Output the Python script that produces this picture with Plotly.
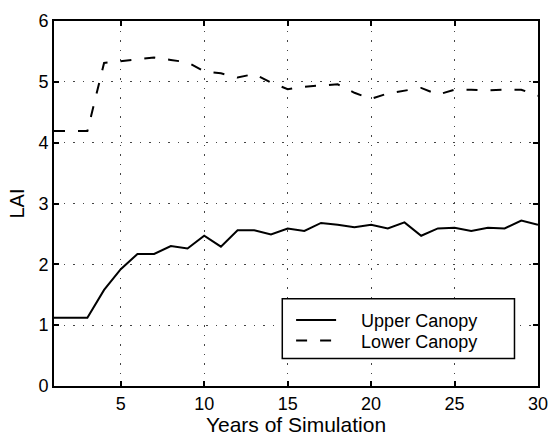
import plotly.graph_objects as go

years = list(range(1, 31))
upper_canopy = [1.12, 1.12, 1.12, 1.58, 1.92, 2.17, 2.17, 2.30, 2.26, 2.47,
                2.29, 2.56, 2.56, 2.49, 2.59, 2.55, 2.68, 2.65, 2.61, 2.65,
                2.59, 2.69, 2.47, 2.59, 2.60, 2.55, 2.60, 2.59, 2.72, 2.65]
lower_canopy = [4.19, 4.19, 4.19, 5.31, 5.34, 5.38, 5.40, 5.36, 5.32, 5.17,
                5.14, 5.07, 5.13, 4.99, 4.88, 4.92, 4.94, 4.96, 4.82, 4.72,
                4.81, 4.85, 4.90, 4.79, 4.87, 4.87, 4.86, 4.87, 4.87, 4.77]
series_names = ["Upper Canopy", "Lower Canopy"]
x_ticks = [5, 10, 15, 20, 25, 30]
y_ticks = [0, 1, 2, 3, 4, 5, 6]

FONT = "Liberation Sans, Arial, Helvetica, sans-serif"
NBSP = "\u00a0" * 4

fig = go.Figure()
fig.add_trace(go.Scatter(x=years, y=upper_canopy, mode="lines", name=NBSP + series_names[0],
                         line=dict(color="black", width=2), legend="legend"))
fig.add_trace(go.Scatter(x=years, y=lower_canopy, mode="lines", name=NBSP + series_names[1],
                         line=dict(color="black", width=2, dash="11px,13px"), legend="legend2"))

axis_common = dict(
    showline=True, linecolor="black", linewidth=1.8, mirror="ticks",
    ticks="inside", ticklen=5, tickwidth=1.5, tickcolor="black",
    showgrid=True, gridcolor="#444444", gridwidth=1.3, griddash="1.5px,8px",
    zeroline=False, tickfont=dict(family=FONT, size=18, color="black"),
)

fig.update_xaxes(range=[1, 30], tickvals=x_ticks,
                 title=dict(text="Years of Simulation", font=dict(family=FONT, size=21, color="black"), standoff=3),
                 **axis_common)
fig.update_yaxes(range=[0, 6], tickvals=y_ticks,
                 title=dict(text="LAI", font=dict(family=FONT, size=20, color="black"), standoff=8),
                 **axis_common)

# legend frame
fig.add_shape(type="rect", xref="paper", yref="paper",
              x0=(287 - 54) / 494, x1=(524 - 54) / 494,
              y0=(386 - 358) / 372, y1=(386 - 297) / 372,
              line=dict(color="black", width=1.5), fillcolor="white", layer="above")

leg_common = dict(bgcolor="rgba(0,0,0,0)", borderwidth=0, font=dict(family=FONT, size=18, color="black"),
                  xanchor="left", yanchor="middle", itemwidth=40)
fig.update_layout(
    width=559, height=442,
    margin=dict(l=54, r=11, t=14, b=56),
    paper_bgcolor="white", plot_bgcolor="white",
    showlegend=True,
    legend=dict(x=(296 - 54) / 494, y=(386 - 319) / 372, **leg_common),
    legend2=dict(x=(296 - 54) / 494, y=(386 - 340) / 372, **leg_common),
)

fig.write_html("out.html")
